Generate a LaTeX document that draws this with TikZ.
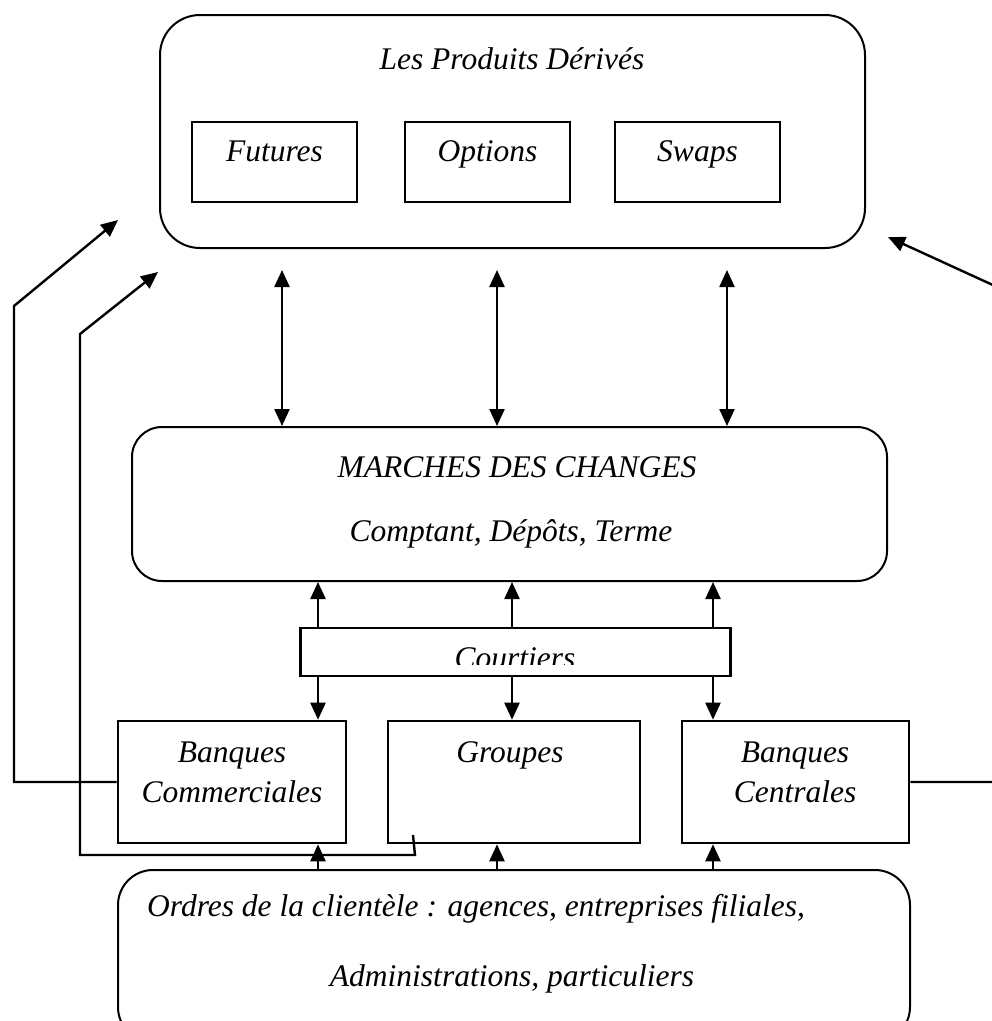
\documentclass[tikz,border=0pt]{standalone}
\usepackage{fontspec}
\setmainfont{Liberation Serif}
\usetikzlibrary{arrows.meta}
\begin{document}
\begin{tikzpicture}[x=1pt,y=-1pt,
  box/.style={draw,line width=2.6pt,rectangle,inner sep=0pt},
  rbox/.style={draw,line width=2pt,rectangle,inner sep=0pt},
  lbl/.style={inner sep=0pt,anchor=base,font=\fontsize{31.5}{36}\selectfont\itshape},
  conn/.style={line width=2.4pt},
  tip/.style={-{Triangle[length=17pt,width=15pt]}},
  dtip/.style={{Triangle[length=17pt,width=15pt]}-{Triangle[length=17pt,width=15pt]}}
]
\useasboundingbox (0,0) rectangle (992,1021);
% boxes
\node[rbox,rounded corners=40pt,minimum width=705pt,minimum height=233pt] (top) at (512.5,131.5) {};
\node[box,minimum width=165pt,minimum height=80pt] (fut) at (274.5,162) {};
\node[box,minimum width=165pt,minimum height=80pt] (opt) at (487.5,162) {};
\node[box,minimum width=165pt,minimum height=80pt] (swp) at (697.5,162) {};
\node[rbox,rounded corners=30pt,minimum width=755pt,minimum height=154pt] (mar) at (509.5,504) {};
\node[box,minimum width=430pt,minimum height=48pt] (cou) at (515.5,652) {};
\node[box,minimum width=228pt,minimum height=122pt] (bc) at (232,782) {};
\node[box,minimum width=252pt,minimum height=122pt] (gr) at (514,782) {};
\node[box,minimum width=227pt,minimum height=122pt] (bce) at (795.5,782) {};
\node[rbox,rounded corners=35pt,minimum width=792pt,minimum height=172pt] (bot) at (514,956) {};
% texts
\node[lbl] (ttop) at (512,69) {Les Produits Dérivés};
\node[lbl] (tfut) at (274.5,161) {Futures};
\node[lbl] (topt) at (487.5,161) {Options};
\node[lbl] (tswp) at (697.5,161) {Swaps};
\node[lbl] (tmar1) at (517,477) {MARCHES DES CHANGES};
\node[lbl] (tmar2) at (511,541) {Comptant, Dépôts, Terme};
\begin{scope}
\clip (300,620) rectangle (732,664);
\node[lbl] (tcou) at (515,668) {Courtiers};
\end{scope}
\node[lbl] (tbc1) at (232,762) {Banques};
\node[lbl] (tbc2) at (232,802) {Commerciales};
\node[lbl] (tgr) at (510,762) {Groupes};
\node[lbl] (tbce1) at (795,762) {Banques};
\node[lbl] (tbce2) at (795,802) {Centrales};
\node[lbl,anchor=base west] (tbot1) at (147,916) {Ordres de la clientèle : agences, entreprises filiales,};
\node[lbl] (tbot2) at (512,986) {Administrations, particuliers};
% coordinates
\coordinate (d1) at (282,270);
\coordinate (d2) at (497,270);
\coordinate (d3) at (727,270);
\coordinate (c1) at (318,0);
\coordinate (c2) at (512,0);
\coordinate (c3) at (713,0);
\coordinate (b2) at (497,0);
% double arrows
\draw[conn,dtip] (d1) -- (d1 |- mar.north);
\draw[conn,dtip] (d2) -- (d2 |- mar.north);
\draw[conn,dtip] (d3) -- (d3 |- mar.north);
% courtiers arrows
\foreach \c in {c1,c2,c3}{
  \draw[conn,tip] (\c |- cou.north) -- (\c |- mar.south);
}
\draw[conn,tip] (c1 |- cou.south) -- (c1 |- bc.north);
\draw[conn,tip] (c2 |- cou.south) -- (c2 |- gr.north);
\draw[conn,tip] (c3 |- cou.south) -- (c3 |- bce.north);
% bottom arrows
\draw[conn,tip] (c1 |- bot.north) -- (c1 |- bc.south);
\draw[conn,tip] (b2 |- bot.north) -- (b2 |- gr.south);
\draw[conn,tip] (c3 |- bot.north) -- (c3 |- bce.south);
% side connectors
\coordinate (l1a) at (14,306);
\coordinate (l1t) at (118,220);
\draw[conn,tip] (bc.west) -- (l1a |- bc.west) -- (l1a) -- (l1t);
\coordinate (g0) at (413,835);
\coordinate (g1) at (415,855);
\coordinate (l2a) at (80,334);
\coordinate (l2t) at (158,272);
\draw[conn,tip] (g0) -- (g1) -- (l2a |- g1) -- (l2a) -- (l2t);
\coordinate (r1a) at (995,286);
\coordinate (r1t) at (888,237);
\draw[conn,tip] (bce.east) -- (r1a |- bce.east) -- (r1a) -- (r1t);
\end{tikzpicture}
\end{document}
